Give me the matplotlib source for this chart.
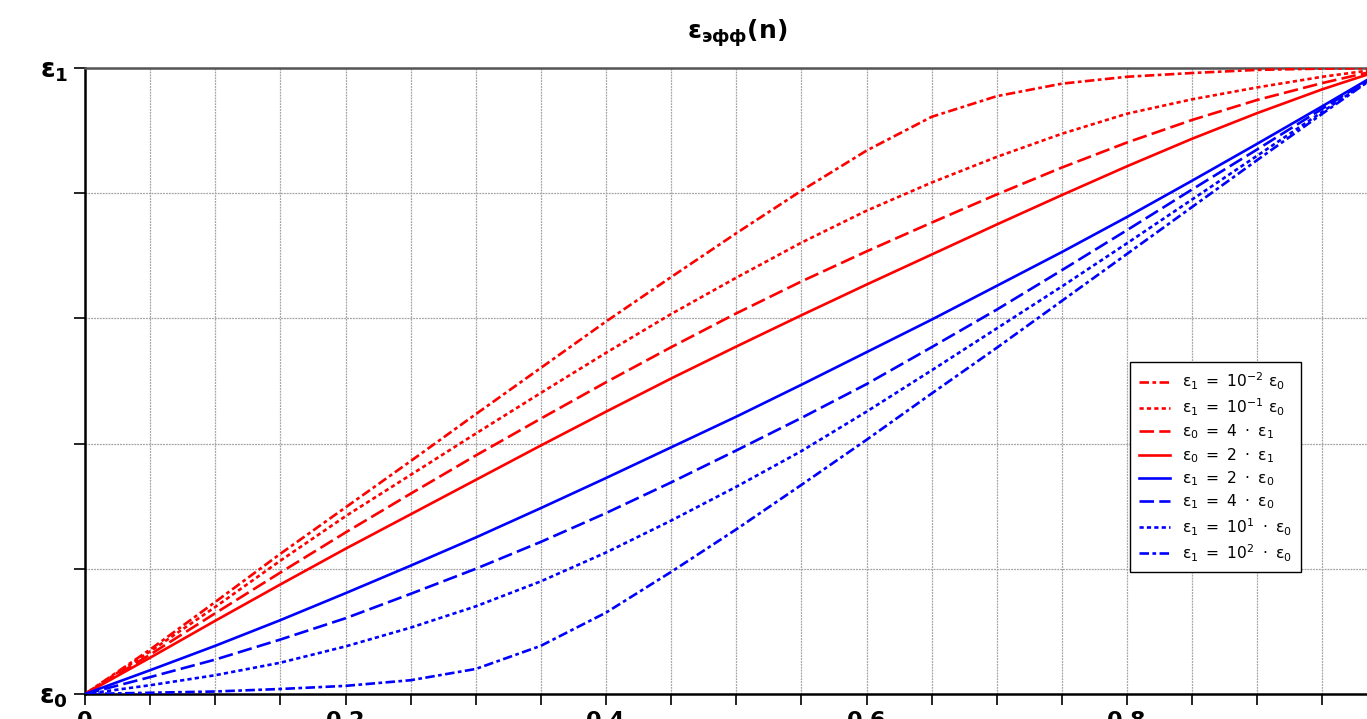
import matplotlib
matplotlib.use('Agg')
import matplotlib.pyplot as plt
from matplotlib.ticker import FixedLocator

# volume fraction n
n = [0, 0.05, 0.1, 0.15, 0.2, 0.25, 0.3, 0.35, 0.4, 0.45, 0.5,
     0.55, 0.6, 0.65, 0.7, 0.75, 0.8, 0.85, 0.9, 0.95, 1.0]

# normalised effective permittivity (0 -> eps0, 1 -> eps1)
r_1e_2 = [0, 0.071, 0.147, 0.224, 0.298, 0.372, 0.447, 0.521, 0.595, 0.666, 0.736,
          0.804, 0.868, 0.922, 0.955, 0.975, 0.986, 0.992, 0.997, 0.999, 1.0]
r_1e_1 = [0, 0.068, 0.139, 0.213, 0.284, 0.350, 0.416, 0.481, 0.545, 0.607, 0.665,
          0.721, 0.772, 0.817, 0.858, 0.895, 0.927, 0.950, 0.969, 0.986, 1.0]
r_4 = [0, 0.063, 0.129, 0.194, 0.258, 0.320, 0.381, 0.440, 0.498, 0.554, 0.608,
       0.659, 0.707, 0.753, 0.798, 0.841, 0.881, 0.917, 0.949, 0.976, 1.0]
r_2 = [0, 0.058, 0.117, 0.175, 0.232, 0.287, 0.342, 0.397, 0.451, 0.504, 0.555,
       0.605, 0.654, 0.702, 0.750, 0.797, 0.843, 0.887, 0.928, 0.966, 1.0]
b_2 = [0, 0.038, 0.077, 0.118, 0.161, 0.205, 0.250, 0.297, 0.345, 0.394, 0.443,
       0.494, 0.546, 0.598, 0.652, 0.706, 0.762, 0.820, 0.879, 0.939, 1.0]
b_4 = [0, 0.027, 0.055, 0.087, 0.121, 0.160, 0.200, 0.243, 0.289, 0.338, 0.389,
       0.441, 0.495, 0.554, 0.614, 0.677, 0.741, 0.806, 0.870, 0.935, 1.0]
b_1e1 = [0, 0.014, 0.030, 0.050, 0.076, 0.106, 0.140, 0.180, 0.226, 0.277, 0.331,
         0.388, 0.451, 0.517, 0.584, 0.651, 0.720, 0.790, 0.860, 0.930, 1.0]
b_1e2 = [0, 0.002, 0.004, 0.008, 0.013, 0.022, 0.040, 0.077, 0.130, 0.195, 0.263,
         0.334, 0.406, 0.480, 0.553, 0.628, 0.703, 0.778, 0.853, 0.927, 1.0]

labels = [r'$\mathrm{ε_1\ =\ 10^{-2}\ ε_0}$',
          r'$\mathrm{ε_1\ =\ 10^{-1}\ ε_0}$',
          r'$\mathrm{ε_0\ =\ 4\ \cdot\ ε_1}$',
          r'$\mathrm{ε_0\ =\ 2\ \cdot\ ε_1}$',
          r'$\mathrm{ε_1\ =\ 2\ \cdot\ ε_0}$',
          r'$\mathrm{ε_1\ =\ 4\ \cdot\ ε_0}$',
          r'$\mathrm{ε_1\ =\ 10^{1}\ \cdot\ ε_0}$',
          r'$\mathrm{ε_1\ =\ 10^{2}\ \cdot\ ε_0}$']

x_ticks = [i * 0.05 for i in range(21)]
x_labels = {0: '0', 4: '0.2', 8: '0.4', 12: '0.6', 16: '0.8', 20: '1'}
y_ticks = [0, 0.2, 0.4, 0.6, 0.8, 1.0]

plt.rcParams['mathtext.fontset'] = 'dejavusans'
plt.rcParams['font.family'] = ['DejaVu Sans']

W, H = 1367, 719
fig = plt.figure(figsize=(W / 100, H / 100), dpi=100)
ax = fig.add_axes([85 / W, (H - 694) / H, 1302.5 / W, 626 / H])

red, blue = '#ff0000', '#0000ff'
dashdot = (0, (3.6, 1.3, 1.4, 1.3))
dotted = (0, (1.6, 1.2))
dashed = (0, (5.5, 2.0))
series = [(r_1e_2, red, dashdot), (r_1e_1, red, dotted), (r_4, red, dashed), (r_2, red, '-'),
          (b_2, blue, '-'), (b_4, blue, dashed), (b_1e1, blue, dotted), (b_1e2, blue, dashdot)]

for (vals, col, ls), lab in zip(series, labels):
    ax.plot(n, vals, color=col, linestyle=ls, linewidth=1.9, label=lab, zorder=3)

ax.set_xlim(0, 1)
ax.set_ylim(0, 1)

ax.xaxis.set_major_locator(FixedLocator(x_ticks))
ax.set_xticklabels([x_labels.get(i, '') for i in range(len(x_ticks))])
ax.yaxis.set_major_locator(FixedLocator(y_ticks))
ax.set_yticklabels([r'$\mathbf{ε_0}$', '', '', '', '', r'$\mathbf{ε_1}$'])

ax.grid(True, color='#a4a4a4', linewidth=0.9, linestyle=(0, (1.5, 0.8)), zorder=0)

for lab in ax.get_xticklabels():
    lab.set_fontsize(16)
    lab.set_fontweight('bold')
for lab in ax.get_yticklabels():
    lab.set_fontsize(19)
ax.tick_params(axis='both', direction='out', length=8, width=1.2, color='black')
ax.tick_params(axis='x', pad=4)
ax.tick_params(axis='y', pad=4)

ax.spines['left'].set_linewidth(1.8)
ax.spines['bottom'].set_linewidth(1.8)
ax.spines['left'].set_color('black')
ax.spines['bottom'].set_color('black')
ax.spines['top'].set_color('#555555')
ax.spines['top'].set_linewidth(1.8)
ax.spines['right'].set_color('#555555')

fig.text(737 / W, 1 - 33 / H, r'$\mathbf{ε_{эфф}(n)}$', ha='center', va='center', fontsize=18)

leg = ax.legend(loc='upper left', bbox_to_anchor=(1130 / W, 1 - 362 / H),
                bbox_transform=fig.transFigure, fontsize=11.2, frameon=True,
                fancybox=False, edgecolor='black', framealpha=1,
                handlelength=2.0, handletextpad=0.8, labelspacing=0.3,
                borderpad=0.55, borderaxespad=0)
leg.get_frame().set_linewidth(1.0)

fig.savefig('out.png', dpi=100, facecolor='white')
